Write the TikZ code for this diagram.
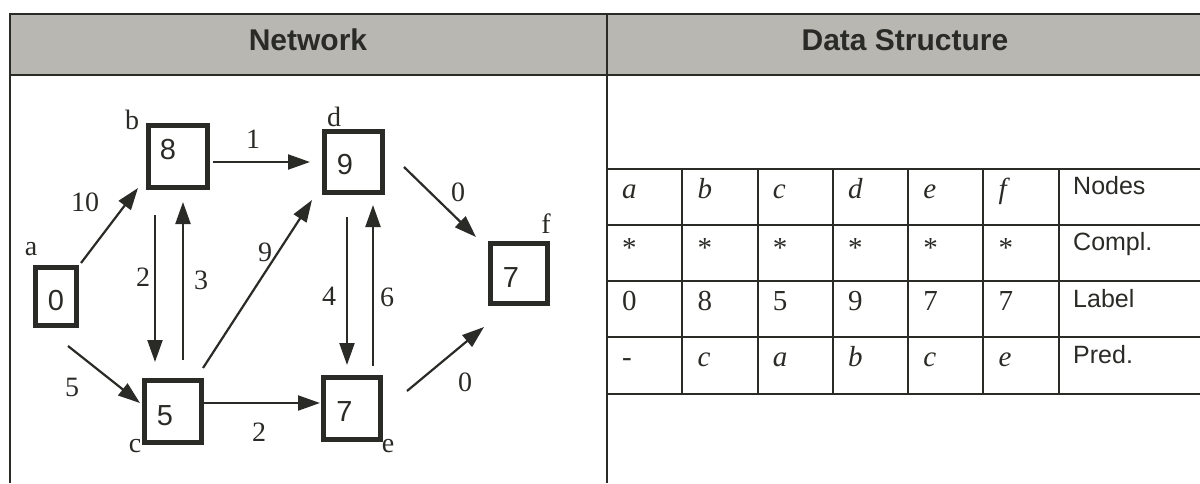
\documentclass[tikz,border=0pt]{standalone}
\usepackage{fontspec}
\setmainfont{Liberation Serif}
\newfontfamily\hv{Liberation Sans}
\usetikzlibrary{arrows.meta,calc}
\definecolor{ink}{HTML}{2A2A27}
\definecolor{hdr}{RGB}{184,183,178}
\begin{document}
\begin{tikzpicture}[x=1pt,y=-1pt,
  frameline/.style={draw=ink,line width=2pt},
  gridline/.style={draw=ink,line width=1.6pt},
  hdrtext/.style={font=\hv\bfseries\fontsize{30}{30}\selectfont,text=ink,inner sep=0},
  nbox/.style={draw=ink,line width=5pt,inner sep=0,outer sep=0pt},
  digit/.style={font=\hv\fontsize{29}{29}\selectfont,text=ink,inner sep=0},
  tag/.style={font=\fontsize{28}{28}\selectfont,text=ink,inner sep=0},
  wt/.style={font=\fontsize{28}{28}\selectfont,text=ink,inner sep=0},
  arc/.style={draw=ink,line width=2.2pt,-{Triangle[length=22pt,width=15pt]}},
  cellser/.style={font=\fontsize{29}{29}\selectfont,text=ink,inner sep=0,anchor=base west},
  cellsans/.style={font=\hv\fontsize{25}{25}\selectfont,text=ink,inner sep=0,anchor=base west}]
\useasboundingbox (0,0) rectangle (1200,483);
% frame and headers
\fill[hdr] (10,14) rectangle (1200,75);
\draw[frameline] (10,14) -- (1200,14);
\draw[frameline] (10,75) -- (1200,75);
\draw[frameline] (10,13) -- (10,483);
\draw[frameline] (607,13) -- (607,483);
\node[hdrtext] (hnet) at (308,40) {Network};
\node[hdrtext] (hds) at (905,40) {Data Structure};
% network boxes
\node[nbox,minimum width=41pt,minimum height=58pt] (a) at (55.5,296) {};
\node[nbox,minimum width=59pt,minimum height=62pt] (b) at (177.5,156) {};
\node[nbox,minimum width=57pt,minimum height=62pt] (c) at (172.5,411) {};
\node[nbox,minimum width=58pt,minimum height=61pt] (d) at (353,161.5) {};
\node[nbox,minimum width=57pt,minimum height=62pt] (e) at (351.5,408) {};
\node[nbox,minimum width=57pt,minimum height=60pt] (f) at (518.5,273) {};
\node[digit] (a0) at (56,301) {0};
\node[digit] (b0) at (168,150) {8};
\node[digit] (c0) at (165,416) {5};
\node[digit] (d0) at (345,165) {9};
\node[digit] (e0) at (344.5,411.5) {7};
\node[digit] (f0) at (511,277.5) {7};
% node names
\node[tag] (ta) at (31,249) {a};
\node[tag] (tb) at (132,120) {b};
\node[tag] (tc) at (135,446) {c};
\node[tag] (td) at (334,117) {d};
\node[tag] (te) at (388,446) {e};
\node[tag] (tf) at (546,224) {f};
% arcs
\draw[arc] ($(a.north east)+(5,-4)$) -- ($(b.south west)+(-10,1)$);
\draw[arc] ($(a.south east)+(-8,21)$) -- ($(c.west)+(-4,-8)$);
\draw[arc] ($(b.east)+(6,6)$) -- ($(d.west)+(-14,0.5)$);
\draw[arc] ($(b.south)+(-22.5,28)$) -- ($(c.north)+(-17.5,-18)$);
\draw[arc] ($(c.north)+(10.5,-20)$) -- ($(b.south)+(5.5,15)$);
\draw[arc] ($(c.north east)+(2,-12)$) -- ($(d.south west)+(-12,8)$);
\draw[arc] ($(c.east)+(1,-8)$) -- ($(e.west)+(-3,-5)$);
\draw[arc] ($(d.south)+(-6,25)$) -- ($(e.north)+(-4.5,-12)$);
\draw[arc] ($(e.north)+(21.5,-11)$) -- ($(d.south)+(20,13)$);
\draw[arc] ($(d.east)+(22,5.5)$) -- ($(f.north west)+(-14,-6)$);
\draw[arc] ($(e.east)+(27,-17)$) -- ($(f.south west)+(-6,24)$);
% weights
\node[wt] (w1) at (85,202) {10};
\node[wt] (w2) at (72,387) {5};
\node[wt] (w3) at (253,139) {1};
\node[wt] (w4) at (143,277) {2};
\node[wt] (w5) at (201,280) {3};
\node[wt] (w6) at (265,252) {9};
\node[wt] (w7) at (259,432) {2};
\node[wt] (w8) at (329,296) {4};
\node[wt] (w9) at (387,297) {6};
\node[wt] (w10) at (458,192) {0};
\node[wt] (w11) at (465,382) {0};
% table grid
\foreach \yy in {169,225,281,337,394} \draw[gridline] (607,\yy) -- (1200,\yy);
\foreach \xx in {682,758,833,908,983,1059} \draw[gridline] (\xx,169) -- (\xx,394);
% table text
\foreach \t [count=\i] in {a,b,c,d,e,f}
  \node[cellser] (r1c\i) at ({607+75.3*(\i-1)+15},198) {\itshape\t};
\foreach \i in {1,...,6}
  \node[cellser] (r2c\i) at ({607+75.3*(\i-1)+15},257) {*};
\foreach \t [count=\i] in {0,8,5,9,7,7}
  \node[cellser] (r3c\i) at ({607+75.3*(\i-1)+15},310) {\t};
\node[cellser] (r4c1) at (622,366) {-};
\foreach \t [count=\i from 2] in {c,a,b,c,e}
  \node[cellser] (r4c\i) at ({607+75.3*(\i-1)+15},366) {\itshape\t};
\node[cellsans] (l1) at (1073,194) {Nodes};
\node[cellsans] (l2) at (1073,250) {Compl.};
\node[cellsans] (l3) at (1073,307) {Label};
\node[cellsans] (l4) at (1073,363) {Pred.};
\end{tikzpicture}
\end{document}
